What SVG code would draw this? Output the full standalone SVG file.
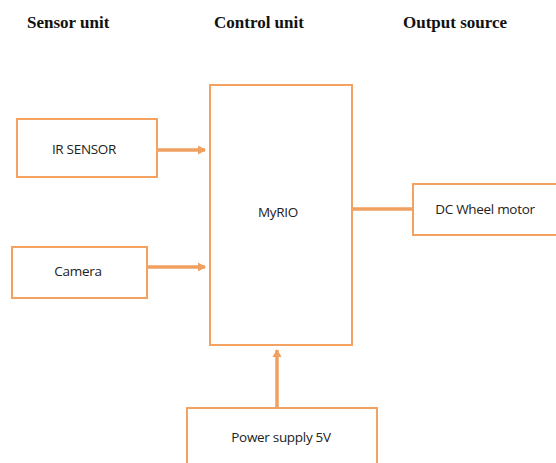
<svg xmlns="http://www.w3.org/2000/svg" width="556" height="463" viewBox="0 0 556 463">
<style>
.box{fill:#fff;stroke:#F3A262;stroke-width:2}
.hdr{font-family:"Liberation Serif",serif;font-weight:bold;font-size:17px;fill:#111}
.lbl{font-family:"Open Sans","Liberation Sans",sans-serif;font-size:13.5px;fill:#222;text-anchor:middle;letter-spacing:-0.3px}
.con{stroke:#F0A060;stroke-width:3.5;fill:none}
</style>
<defs>
<marker id="ah" markerWidth="4" markerHeight="4" refX="2" refY="2" orient="auto" markerUnits="strokeWidth">
<path d="M0,0.7 L2.3,2 L0,3.3 Z" fill="#F0A060"/>
</marker>
</defs>
<rect width="556" height="463" fill="#fff"/>
<g id="headers">
<text class="hdr" x="27" y="28">Sensor unit</text>
<text class="hdr" x="214" y="28">Control unit</text>
<text class="hdr" x="403" y="28">Output source</text>
</g>
<g id="connectors">
<line class="con" x1="157" y1="150" x2="205" y2="150" marker-end="url(#ah)"/>
<line class="con" x1="147" y1="267" x2="205" y2="267" marker-end="url(#ah)"/>
<line class="con" x1="352" y1="209" x2="413" y2="209"/>
<line class="con" x1="277" y1="408" x2="277" y2="350" marker-end="url(#ah)"/>
</g>
<g id="ir">
<rect class="box" x="17" y="119" width="140" height="58"/>
<text class="lbl" x="84" y="154">IR SENSOR</text>
</g>
<g id="camera">
<rect class="box" x="12" y="247" width="135" height="51"/>
<text class="lbl" x="78" y="276">Camera</text>
</g>
<g id="myrio">
<rect class="box" x="210" y="85" width="142" height="260"/>
<text class="lbl" x="278" y="217">MyRIO</text>
</g>
<g id="motor">
<rect class="box" x="413" y="184" width="145" height="51"/>
<text class="lbl" x="485" y="214">DC Wheel motor</text>
</g>
<g id="power">
<rect class="box" x="187" y="408" width="190" height="60"/>
<text class="lbl" x="281" y="442">Power supply 5V</text>
</g>
</svg>
